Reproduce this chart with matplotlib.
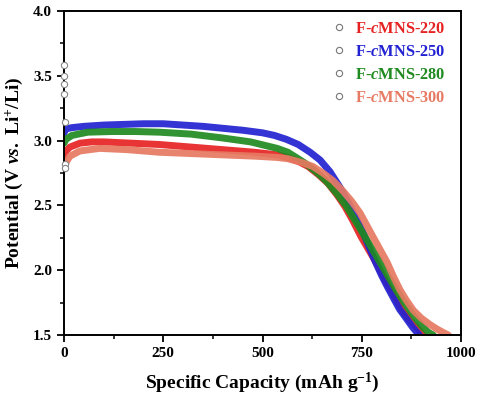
import matplotlib
matplotlib.use("Agg")
import matplotlib.pyplot as plt
from matplotlib.lines import Line2D
from matplotlib.ticker import MultipleLocator

plt.rcParams['font.family'] = ['Liberation Serif', 'DejaVu Serif']
plt.rcParams['font.weight'] = 'bold'
plt.rcParams['mathtext.fontset'] = 'custom'
plt.rcParams['mathtext.rm'] = 'Liberation Serif:bold'
plt.rcParams['mathtext.it'] = 'Liberation Serif:italic:bold'
plt.rcParams['mathtext.bf'] = 'Liberation Serif:bold'

labels = ['F-$\\mathit{c}$MNS-220', 'F-$\\mathit{c}$MNS-250',
          'F-$\\mathit{c}$MNS-280', 'F-$\\mathit{c}$MNS-300']
colors = ['#e62222', '#2222d2', '#1f8a1f', '#e67a62']

cap_220 = [0, 5, 15, 40, 70, 100, 170, 240, 320, 400, 480, 537, 564, 590, 615, 640, 665, 688, 708,
           728, 748, 767, 786, 803, 819, 836, 852, 872, 894, 904]
v_220 = [2.88, 2.92, 2.95, 2.98, 2.99, 2.99, 2.98, 2.97, 2.95, 2.93, 2.91, 2.89, 2.87, 2.84, 2.80,
         2.74, 2.67, 2.58, 2.49, 2.38, 2.26, 2.16, 2.06, 1.96, 1.87, 1.78, 1.69, 1.61, 1.54, 1.50]

cap_250 = [0, 5, 20, 50, 100, 150, 200, 250, 300, 350, 400, 450, 500, 530, 560, 590, 620, 645, 670,
           695, 715, 738, 755, 771, 785, 800, 815, 829, 845, 864, 878, 889, 895]
v_250 = [3.06, 3.09, 3.10, 3.11, 3.12, 3.125, 3.13, 3.13, 3.12, 3.11, 3.095, 3.08, 3.06, 3.04, 3.01,
         2.97, 2.91, 2.85, 2.76, 2.64, 2.53, 2.39, 2.28, 2.16, 2.06, 1.96, 1.87, 1.79, 1.70, 1.62,
         1.56, 1.52, 1.50]

cap_280 = [0, 5, 20, 60, 120, 180, 240, 320, 400, 470, 510, 537, 564, 590, 610, 635, 660, 685, 710,
           730, 750, 777, 798, 819, 840, 864, 885, 904, 918, 930]
v_280 = [2.98, 3.01, 3.04, 3.065, 3.07, 3.07, 3.065, 3.05, 3.02, 2.99, 2.96, 2.94, 2.91, 2.86, 2.82,
         2.76, 2.69, 2.60, 2.50, 2.40, 2.30, 2.16, 2.05, 1.94, 1.83, 1.72, 1.63, 1.56, 1.52, 1.50]

cap_300 = [0, 5, 15, 40, 90, 160, 240, 320, 400, 480, 537, 564, 600, 627, 652, 678, 703, 725, 746,
           762, 778, 796, 814, 830, 846, 862, 880, 900, 922, 940, 955, 968]
v_300 = [2.78, 2.83, 2.88, 2.92, 2.94, 2.93, 2.91, 2.90, 2.89, 2.88, 2.87, 2.86, 2.83, 2.80, 2.75,
         2.69, 2.61, 2.53, 2.44, 2.35, 2.26, 2.16, 2.06, 1.95, 1.85, 1.77, 1.69, 1.63, 1.58, 1.545,
         1.52, 1.50]

init_cap = [1, 1, 1, 1, 2, 2, 2]
init_v = [3.58, 3.50, 3.44, 3.36, 3.14, 2.82, 2.79]

caps = [cap_220, cap_250, cap_280, cap_300]
vs = [v_220, v_250, v_280, v_300]

fig = plt.figure(figsize=(4.8, 3.97), dpi=100)
ax = fig.add_axes([64/480, 1-335/397, 397/480, 324/397])

for c, v, col in zip(caps, vs, colors):
    ax.plot(c, v, color=col, lw=5.0, solid_capstyle='round', solid_joinstyle='round', alpha=0.92)

ax.plot(init_cap, init_v, ls='none', marker='o', mfc='white', mec='#888888', ms=4.5, mew=0.8,
        clip_on=False, zorder=5)

ax.set_xlim(0, 1000)
ax.set_ylim(1.5, 4.0)
ax.xaxis.set_major_locator(MultipleLocator(250))
ax.xaxis.set_minor_locator(MultipleLocator(125))
ax.yaxis.set_major_locator(MultipleLocator(0.5))
ax.yaxis.set_minor_locator(MultipleLocator(0.25))
ax.tick_params(which='major', direction='out', length=5, width=1.3, labelsize=11)
ax.tick_params(which='minor', direction='out', length=3, width=1.1)
for lab in ax.get_xticklabels() + ax.get_yticklabels():
    lab.set_fontweight('bold')
for s in ax.spines.values():
    s.set_linewidth(1.4)

ax.set_xlabel('Specific Capacity (mAh g$^{\\mathregular{-1}}$)', fontsize=14, fontweight='bold', labelpad=8)
ax.set_ylabel('Potential (V $\\mathit{vs.}$ Li$^{+}$/Li)', fontsize=14, fontweight='bold', labelpad=6)

handles = [Line2D([], [], ls='none', marker='o', mfc='none', mec='#777777', ms=4.5, mew=0.8) for _ in labels]
leg = ax.legend(handles, labels, loc='upper right', bbox_to_anchor=(0.99, 1.005), frameon=False,
                fontsize=11.8, handletextpad=0.35, labelspacing=0.42, handlelength=1.3, borderaxespad=0.3)
for t, col in zip(leg.get_texts(), colors):
    t.set_color(col)
    t.set_fontweight('bold')

fig.savefig('out.png', dpi=100)
